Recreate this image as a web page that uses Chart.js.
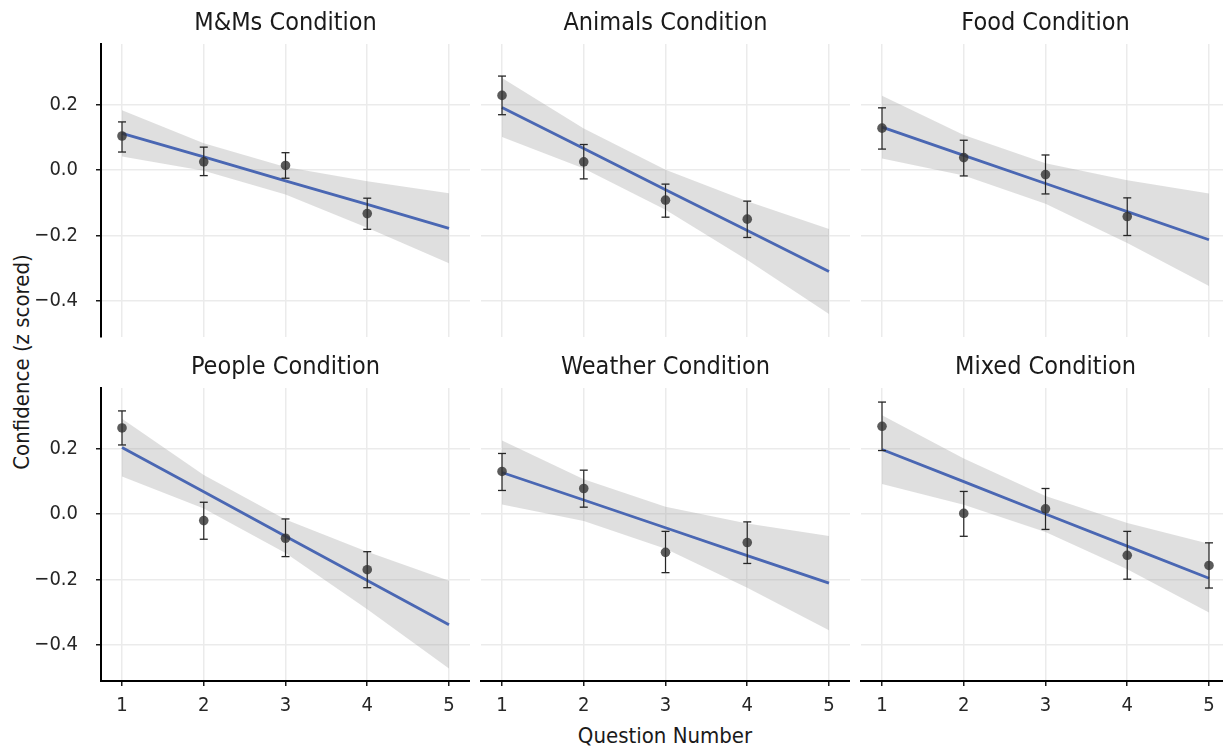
<!DOCTYPE html>
<html>
<head>
<meta charset="utf-8">
<script src="https://cdn.jsdelivr.net/npm/chart.js@4.4.1/dist/chart.umd.min.js"></script>
<style>
  html, body { margin:0; padding:0; background:#fff; width:1223px; height:749px; overflow:hidden; position:relative; }
  canvas { position:absolute; }
  .axt { position:absolute; font-family:"Liberation Sans Narrow","Arial Narrow","DejaVu Sans Condensed",sans-serif; font-size:22px; color:#1a1a1a; white-space:nowrap; line-height:1; }
</style>
</head>
<body>
<div id="ylab" class="axt">Confidence (z scored)</div>
<div id="xlab" class="axt">Question Number</div>
<script>
// ---------------- data ----------------
const xCategories = [1, 2, 3, 4, 5];
const xTickLabels = ['1', '2', '3', '4', '5'];
const yTickValues = [-0.4, -0.2, 0, 0.2];
const yTickLabels = ['\u22120.4', '\u22120.2', '0.0', '0.2'];
const panelTitles = ['M&Ms Condition', 'Animals Condition', 'Food Condition', 'People Condition', 'Weather Condition', 'Mixed Condition'];

const mmsMean   = [0.104, 0.025, 0.014, -0.133];
const mmsErrHi  = [0.147, 0.070, 0.053, -0.086];
const mmsErrLo  = [0.055, -0.017, -0.025, -0.181];
const mmsFit    = [0.112, 0.040, -0.033, -0.105, -0.178];
const mmsBandHi = [0.183, 0.082, 0.009, -0.034, -0.071];
const mmsBandLo = [0.041, -0.002, -0.075, -0.176, -0.285];

const animalsMean   = [0.228, 0.025, -0.092, -0.150];
const animalsErrHi  = [0.287, 0.078, -0.043, -0.095];
const animalsErrLo  = [0.169, -0.027, -0.144, -0.206];
const animalsFit    = [0.191, 0.066, -0.060, -0.185, -0.310];
const animalsBandHi = [0.281, 0.127, 0.001, -0.095, -0.180];
const animalsBandLo = [0.101, 0.005, -0.121, -0.275, -0.440];

const foodMean   = [0.128, 0.038, -0.014, -0.142];
const foodErrHi  = [0.190, 0.091, 0.046, -0.085];
const foodErrLo  = [0.064, -0.018, -0.073, -0.200];
const foodFit    = [0.131, 0.045, -0.041, -0.127, -0.213];
const foodBandHi = [0.227, 0.107, 0.021, -0.031, -0.072];
const foodBandLo = [0.035, -0.017, -0.103, -0.223, -0.354];

const peopleMean   = [0.263, -0.020, -0.074, -0.170];
const peopleErrHi  = [0.315, 0.036, -0.015, -0.115];
const peopleErrLo  = [0.211, -0.077, -0.130, -0.225];
const peopleFit    = [0.203, 0.068, -0.068, -0.203, -0.338];
const peopleBandHi = [0.291, 0.119, -0.017, -0.115, -0.204];
const peopleBandLo = [0.115, 0.017, -0.119, -0.291, -0.472];

const weatherMean   = [0.130, 0.078, -0.117, -0.087];
const weatherErrHi  = [0.185, 0.134, -0.053, -0.024];
const weatherErrLo  = [0.072, 0.021, -0.179, -0.151];
const weatherFit    = [0.127, 0.043, -0.042, -0.127, -0.211];
const weatherBandHi = [0.225, 0.106, 0.022, -0.029, -0.067];
const weatherBandLo = [0.029, -0.021, -0.106, -0.225, -0.355];

const mixedMean   = [0.268, 0.002, 0.016, -0.126, -0.157];
const mixedErrHi  = [0.342, 0.069, 0.078, -0.053, -0.088];
const mixedErrLo  = [0.194, -0.068, -0.047, -0.199, -0.226];
const mixedFit    = [0.197, 0.099, 0.000, -0.098, -0.196];
const mixedBandHi = [0.302, 0.170, 0.055, -0.027, -0.091];
const mixedBandLo = [0.092, 0.028, -0.055, -0.169, -0.301];

// ---------------- layout / style ----------------
const FONT = '"Liberation Sans Narrow","Arial Narrow","DejaVu Sans Condensed",sans-serif';
const X_MIN = 0.743, X_MAX = 5.257, Y_MIN = -0.51, Y_MAX = 0.385;
const COL_LEFT = [101, 481, 861], ROW_TOP = [44, 388];
const PANEL_W = 369, PANEL_H = 293;
const PAD_L = 70, PAD_T = 44, PAD_B = 40;
const TITLE_SIZE = 25, TICK_SIZE = 20;

const ylab = document.getElementById('ylab');
ylab.style.left = '22px'; ylab.style.top = '362px';
ylab.style.transform = 'translate(-50%,-50%) rotate(-90deg)';
const xlab = document.getElementById('xlab');
xlab.style.left = '665px'; xlab.style.top = '736px';
xlab.style.transform = 'translate(-50%,-50%)';

function pts(ys) { return ys.map((y, i) => ({ x: xCategories[i], y: y })); }

function makePanel(idx, mean, errLo, errHi, fit, bandHi, bandLo) {
  const col = idx % 3, row = Math.floor(idx / 3);
  const showY = col === 0, showX = row === 1;
  const canvas = document.createElement('canvas');
  canvas.width = PANEL_W + PAD_L;
  canvas.height = PANEL_H + PAD_T + PAD_B;
  canvas.style.left = (COL_LEFT[col] - PAD_L) + 'px';
  canvas.style.top = (ROW_TOP[row] - PAD_T) + 'px';
  canvas.style.width = canvas.width + 'px';
  canvas.style.height = canvas.height + 'px';
  document.body.appendChild(canvas);

  const datasets = [];
  datasets.push({ type: 'line', data: pts(bandHi), borderColor: 'rgba(0,0,0,0)', pointRadius: 0,
                  fill: '+1', backgroundColor: 'rgba(150,150,150,0.3)', order: 4 });
  datasets.push({ type: 'line', data: pts(bandLo), borderColor: 'rgba(0,0,0,0)', pointRadius: 0,
                  fill: false, order: 4 });
  datasets.push({ type: 'line', data: pts(fit), borderColor: '#4a67b3', borderWidth: 2.8,
                  pointRadius: 0, fill: false, order: 3 });
  mean.forEach((m, i) => {
    datasets.push({ type: 'line',
      data: [{ x: xCategories[i], y: errLo[i] }, { x: xCategories[i], y: errHi[i] }],
      borderColor: '#262626', borderWidth: 1.2, pointStyle: 'line', pointRadius: 4,
      pointBorderColor: '#262626', pointBorderWidth: 1.3, fill: false, order: 2 });
  });
  datasets.push({ type: 'scatter', data: pts(mean), backgroundColor: 'rgba(50,50,50,0.8)',
                  borderWidth: 0, pointRadius: 4.8, order: 1 });

  new Chart(canvas, {
    type: 'line',
    data: { datasets: datasets },
    options: {
      responsive: false, animation: false, events: [],
      layout: { padding: 0, autoPadding: false },
      plugins: {
        legend: { display: false },
        tooltip: { enabled: false },
        title: { display: true, text: panelTitles[idx], fullSize: false, color: '#1a1a1a',
                 font: { family: FONT, size: TITLE_SIZE, weight: 'normal', lineHeight: 1.2 },
                 padding: { top: 8, bottom: PAD_T - 8 - TITLE_SIZE * 1.2 } }
      },
      scales: {
        x: {
          type: 'linear', min: X_MIN, max: X_MAX,
          afterBuildTicks: s => { s.ticks = xCategories.map(v => ({ value: v })); },
          afterFit: s => { s.height = PAD_B; s.paddingLeft = 0; s.paddingRight = 0; },
          grid: { color: '#ebebeb', lineWidth: 1.5, drawTicks: showX, tickLength: 5,
                  tickColor: '#1a1a1a', tickWidth: 1.5 },
          border: { display: showX, color: '#000', width: 2 },
          ticks: { display: showX, color: '#262626', padding: 8, maxRotation: 0,
                   font: { family: FONT, size: TICK_SIZE },
                   callback: v => xTickLabels[xCategories.indexOf(v)] }
        },
        y: {
          type: 'linear', min: Y_MIN, max: Y_MAX,
          afterBuildTicks: s => { s.ticks = yTickValues.map(v => ({ value: v })); },
          afterFit: s => { s.width = PAD_L; s.paddingTop = 0; s.paddingBottom = 0; },
          grid: { color: '#ebebeb', lineWidth: 1.5, drawTicks: showY, tickLength: 5,
                  tickColor: '#1a1a1a', tickWidth: 1.5 },
          border: { display: showY, color: '#000', width: 2 },
          ticks: { display: showY, color: '#262626', padding: 18,
                   font: { family: FONT, size: TICK_SIZE },
                   callback: v => { const k = yTickValues.findIndex(t => Math.abs(t - v) < 1e-9); return k >= 0 ? yTickLabels[k] : ''; } }
        }
      }
    }
  });
}

makePanel(0, mmsMean, mmsErrLo, mmsErrHi, mmsFit, mmsBandHi, mmsBandLo);
makePanel(1, animalsMean, animalsErrLo, animalsErrHi, animalsFit, animalsBandHi, animalsBandLo);
makePanel(2, foodMean, foodErrLo, foodErrHi, foodFit, foodBandHi, foodBandLo);
makePanel(3, peopleMean, peopleErrLo, peopleErrHi, peopleFit, peopleBandHi, peopleBandLo);
makePanel(4, weatherMean, weatherErrLo, weatherErrHi, weatherFit, weatherBandHi, weatherBandLo);
makePanel(5, mixedMean, mixedErrLo, mixedErrHi, mixedFit, mixedBandHi, mixedBandLo);
</script>
</body>
</html>
